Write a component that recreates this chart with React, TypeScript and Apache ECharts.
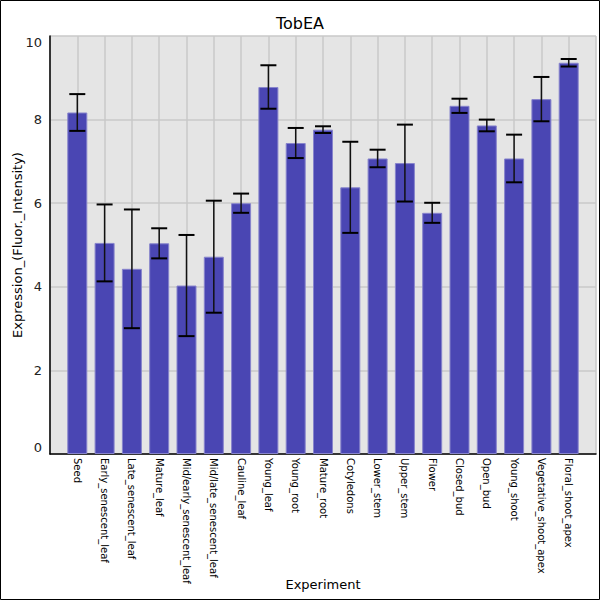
import React, { useEffect, useRef } from "react";
import * as echarts from "echarts";

const categories = [
  "Seed",
  "Early_senescent_leaf",
  "Late_senescent_leaf",
  "Mature_leaf",
  "Mid/early_senescent_leaf",
  "Mid/late_senescent_leaf",
  "Cauline_leaf",
  "Young_leaf",
  "Young_root",
  "Mature_root",
  "Cotyledons",
  "Lower_stem",
  "Upper_stem",
  "Flower",
  "Closed_bud",
  "Open_bud",
  "Young_shoot",
  "Vegetative_shoot_apex",
  "Floral_shoot_apex",
];

const means = [
  8.17, 5.05, 4.43, 5.04, 4.03, 4.72, 6.0, 8.78, 7.44, 7.76, 6.38, 7.07, 6.96,
  5.77, 8.33, 7.86, 7.07, 8.49, 9.36,
];

const errors = [
  0.44, 0.92, 1.42, 0.36, 1.21, 1.34, 0.23, 0.52, 0.36, 0.08, 1.09, 0.21, 0.92,
  0.24, 0.17, 0.14, 0.57, 0.53, 0.09,
];

const yTicks = { min: 0, max: 10, interval: 2 };

const FONT = "DejaVu Sans";

export default function App() {
  const ref = useRef<HTMLDivElement>(null);

  useEffect(() => {
    if (!ref.current) return;
    const chart = echarts.init(ref.current, undefined, { renderer: "svg" });

    // padded categories: one empty slot at each end
    const xData = ["", ...categories, ""];
    const barData = [null, ...means, null];
    const errData = categories.map((_, i) => [
      i + 1,
      means[i] - errors[i],
      means[i] + errors[i],
    ]);

    chart.setOption({
      animation: false,
      backgroundColor: "#ffffff",
      title: {
        text: "TobEA",
        left: "center",
        top: 10,
        textStyle: {
          fontFamily: FONT,
          fontSize: 16,
          fontWeight: "normal",
          color: "#000",
        },
      },
      graphic: [
        {
          type: "rect",
          shape: { x: 0.5, y: 0.5, width: 599, height: 599 },
          style: { fill: "none", stroke: "#000", lineWidth: 1 },
          silent: true,
          z: 100,
        },
      ],
      grid: {
        left: 50,
        right: 4,
        top: 36,
        bottom: 146,
        show: true,
        backgroundColor: "#e5e5e5",
        borderWidth: 0,
        containLabel: false,
        outerBoundsMode: "none",
      },
      xAxis: {
        type: "category",
        data: xData,
        boundaryGap: false,
        name: "Experiment",
        nameLocation: "middle",
        nameGap: 124,
        nameMoveOverlap: false,
        nameTextStyle: { fontFamily: FONT, fontSize: 13, color: "#000" },
        axisLine: { show: true, lineStyle: { color: "#000", width: 1.5 } },
        axisTick: { show: false },
        axisLabel: {
          rotate: -90,
          interval: 0,
          margin: 4,
          fontFamily: FONT,
          fontSize: 10,
          color: "#000",
        },
        splitLine: { show: true, lineStyle: { color: "#c8c8c8", width: 1.5 } },
      },
      yAxis: {
        type: "value",
        min: yTicks.min,
        max: yTicks.max,
        interval: yTicks.interval,
        name: "Expression_(Fluor._Intensity)",
        nameLocation: "middle",
        nameGap: 26,
        nameMoveOverlap: false,
        nameTextStyle: { fontFamily: FONT, fontSize: 13, color: "#000" },
        axisLine: { show: true, lineStyle: { color: "#000", width: 1.5 } },
        axisTick: { show: false },
        axisLabel: {
          fontFamily: FONT,
          fontSize: 13,
          color: "#222",
          margin: 8,
          verticalAlignMaxLabel: "top",
          verticalAlignMinLabel: "bottom",
        },
        splitLine: { show: true, lineStyle: { color: "#c8c8c8", width: 1.5 } },
      },
      series: [
        {
          type: "bar",
          data: barData,
          barWidth: 20,
          itemStyle: {
            color: "#4a46b3",
            borderColor: "#8784cc",
            borderWidth: 1,
          },
          z: 2,
        },
        {
          type: "custom",
          data: errData,
          z: 3,
          renderItem: (params: any, api: any) => {
            const x = api.value(0);
            const lo = api.coord([x, api.value(1)]);
            const hi = api.coord([x, api.value(2)]);
            const hw = 8;
            return {
              type: "group",
              children: [
                {
                  type: "line",
                  shape: { x1: hi[0], y1: hi[1], x2: lo[0], y2: lo[1] },
                  style: { stroke: "#111", lineWidth: 1.5 },
                },
                {
                  type: "line",
                  shape: { x1: hi[0] - hw, y1: hi[1], x2: hi[0] + hw, y2: hi[1] },
                  style: { stroke: "#000", lineWidth: 2 },
                },
                {
                  type: "line",
                  shape: { x1: lo[0] - hw, y1: lo[1], x2: lo[0] + hw, y2: lo[1] },
                  style: { stroke: "#000", lineWidth: 2 },
                },
              ],
            };
          },
        },
      ],
    });

    return () => chart.dispose();
  }, []);

  return (
    <div
      ref={ref}
      style={{ position: "fixed", left: 0, top: 0, width: 600, height: 600 }}
    />
  );
}
